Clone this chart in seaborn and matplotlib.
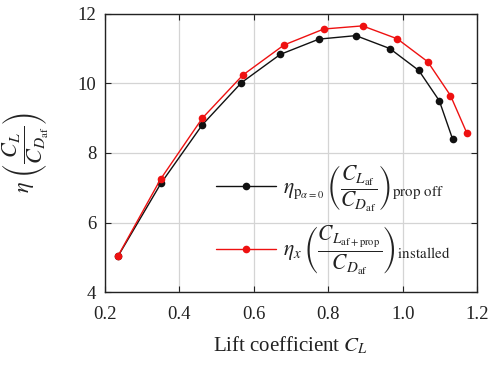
import matplotlib
matplotlib.use("Agg")
import matplotlib.pyplot as plt
import seaborn as sns
import pandas as pd

# Propeller-off efficiency curve
cl_off = [0.236, 0.351, 0.462, 0.567, 0.671, 0.775, 0.874, 0.965, 1.043, 1.098, 1.134]
eta_off = [5.04, 7.13, 8.81, 10.02, 10.83, 11.27, 11.37, 11.00, 10.37, 9.50, 8.39]

# Installed (propeller on) efficiency curve
cl_inst = [0.236, 0.350, 0.462, 0.571, 0.681, 0.788, 0.892, 0.985, 1.067, 1.128, 1.172]
eta_inst = [5.05, 7.25, 9.00, 10.24, 11.10, 11.56, 11.65, 11.28, 10.62, 9.65, 8.57]

xticks = [0.2, 0.4, 0.6, 0.8, 1.0, 1.2]
yticks = [4, 6, 8, 10, 12]

label_off = r"$\eta_{\mathrm{p}_{\alpha=0}}\,\left(\dfrac{C_{L_{\mathrm{af}}}}{C_{D_{\mathrm{af}}}}\right)_{\mathrm{prop\ off}}$"
label_inst = r"$\eta_x\,\left(\dfrac{C_{L_{\mathrm{af+prop}}}}{C_{D_{\mathrm{af}}}}\right)_{\mathrm{installed}}$"

df_off = pd.DataFrame({"CL": cl_off, "eta": eta_off})
df_inst = pd.DataFrame({"CL": cl_inst, "eta": eta_inst})

sns.set_theme(style="ticks")
plt.rcParams.update({
    "font.family": ["Liberation Serif", "DejaVu Serif"],
    "mathtext.fontset": "stix",
    "axes.edgecolor": "#222222",
    "axes.linewidth": 1.0,
    "xtick.direction": "in",
    "ytick.direction": "in",
    "xtick.top": True,
    "ytick.right": True,
    "xtick.color": "#222222",
    "ytick.color": "#222222",
    "text.color": "#222222",
    "axes.labelcolor": "#222222",
})

fig = plt.figure(figsize=(4.9, 3.69), dpi=100)
ax = fig.add_axes([0.2137, 0.2079, 0.7604, 0.7550])

sns.lineplot(data=df_off, x="CL", y="eta", ax=ax, color="#111111", lw=1.0,
             marker="o", markersize=5.5, markeredgewidth=0, label=label_off,
             sort=False)
sns.lineplot(data=df_inst, x="CL", y="eta", ax=ax, color="#ee1111", lw=1.0,
             marker="o", markersize=5.5, markeredgewidth=0, label=label_inst,
             sort=False)

ax.set_xlim(0.2, 1.2)
ax.set_ylim(4, 12)
ax.set_xticks(xticks)
ax.set_yticks(yticks)
ax.set_xticklabels([f"{t:.1f}" for t in xticks])
ax.set_yticklabels([str(t) for t in yticks])
ax.tick_params(labelsize=13.5, length=4, width=0.8)
ax.tick_params(axis="x", pad=10)
ax.tick_params(axis="y", pad=6)
ax.grid(True, color="#d4d4d4", lw=0.9)
ax.set_axisbelow(True)

ax.set_xlabel(r"Lift coefficient $C_L$", fontsize=15, labelpad=8)
ax.set_ylabel(r"$\eta\ \left(\dfrac{C_L}{C_{D_{\mathrm{af}}}}\right)$", fontsize=16, labelpad=20)

ax.legend(loc="center left", bbox_to_anchor=(0.299, 0.258), frameon=False,
          fontsize=15.5, handlelength=2.8, handletextpad=0.3, borderpad=0,
          borderaxespad=0, labelspacing=0.45)

fig.savefig("out.png", dpi=100)
